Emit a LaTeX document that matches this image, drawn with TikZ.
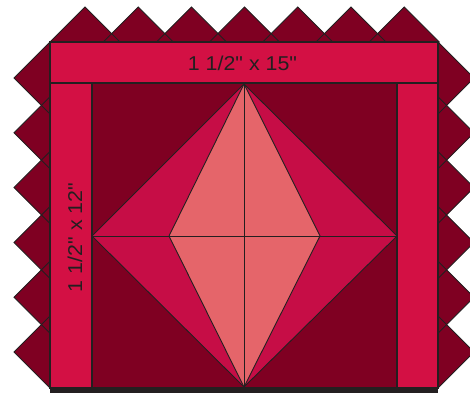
\documentclass[tikz,border=0pt]{standalone}
\usepackage{fontspec}
\setmainfont{Liberation Sans}
\newfontfamily\lblfont[FakeStretch=1.07]{Liberation Sans}
\definecolor{wine}{HTML}{7F0022}
\definecolor{strip}{HTML}{D31044}
\definecolor{mid}{HTML}{C60D46}
\definecolor{salmon}{HTML}{E5656A}
\definecolor{ink}{HTML}{231F20}
\begin{document}
\begin{tikzpicture}[x=1pt,y=-1pt,line join=miter,
  piece/.style={draw=ink,line width=0.9pt},
  edge/.style={draw=ink,line width=1.2pt},
  lbl/.style={text=ink,font=\lblfont\fontsize{20}{20}\selectfont,inner sep=0pt}]
\useasboundingbox (0,0) rectangle (470,393);
\clip (0,0) rectangle (470,393);
% sawtooth border: fills
\foreach \i in {0,...,6} {
  \fill[wine] ({85+53.2*\i},7) -- ++(35,35) -- ++(-35,35) -- ++(-35,-35) -- cycle;
}
\foreach \j in {0,...,5} {
  \fill[wine] (14,{78+54.8*\j}) -- ++(36,-36) -- ++(36,36) -- ++(-36,36) -- cycle;
  \fill[wine] (474,{78+54.8*\j}) -- ++(-36,-36) -- ++(-36,36) -- ++(36,36) -- cycle;
}
% sawtooth border: outlines
\foreach \i in {0,...,6} {
  \draw[piece] ({85+53.2*\i},7) -- ++(35,35) -- ++(-35,35) -- ++(-35,-35) -- cycle;
}
\foreach \j in {0,...,5} {
  \draw[piece] (14,{78+54.8*\j}) -- ++(36,-36) -- ++(36,36) -- ++(-36,36) -- cycle;
  \draw[piece] (474,{78+54.8*\j}) -- ++(-36,-36) -- ++(-36,36) -- ++(36,36) -- cycle;
}
% centre block
\fill[wine] (92,83) rectangle (397,388);
\draw[piece,fill=mid] (244,84) -- (92,236) -- (244,387) -- (397,236) -- cycle;
\draw[piece,fill=salmon] (244,84) -- (169,236) -- (244,387) -- (320,236) -- cycle;
\draw[piece] (92,236) -- (397,236);
\draw[piece] (244,84) -- (244,387);
% strips
\draw[edge,fill=strip] (50,42) rectangle (438,83);
\draw[edge,fill=strip] (50,83) rectangle (92,388);
\draw[edge,fill=strip] (397,83) rectangle (438,388);
\fill[ink] (50,387) rectangle (438,393);
% labels
\node[lbl] (toplabel) at (242.5,63.5) {1 1/2" x 15"};
\node[lbl,rotate=90] (sidelabel) at (75,237.5) {1 1/2" x 12"};
\end{tikzpicture}
\end{document}
